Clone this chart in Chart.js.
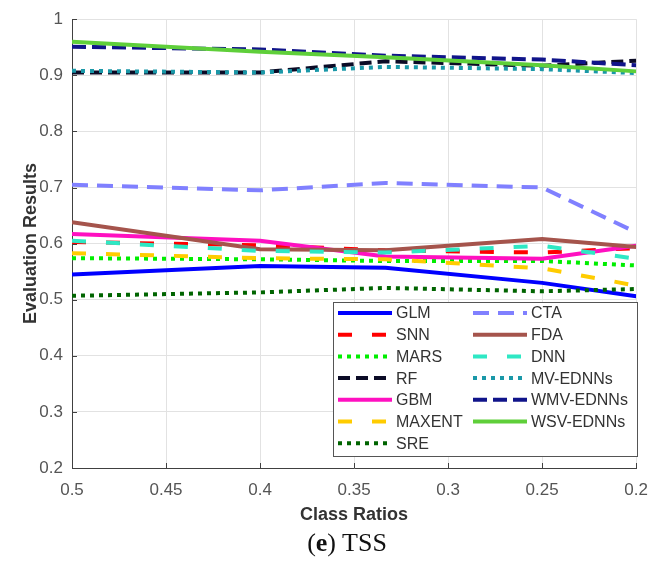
<!DOCTYPE html>
<html>
<head>
<meta charset="utf-8">
<script src="https://cdn.jsdelivr.net/npm/chart.js@4/dist/chart.umd.min.js"></script>
<style>
  html, body { margin: 0; padding: 0; background: #fff; }
  #wrap { position: relative; width: 660px; height: 570px; }
  #cap { position: absolute; left: 0; top: 528px; width: 694px; text-align: center;
         font-family: "Liberation Serif", "DejaVu Serif", serif; font-size: 26px; color: #111; }
</style>
</head>
<body>
<div id="wrap">
  <canvas id="c" width="660" height="570"></canvas>
  <div id="cap">(<b>e</b>) TSS</div>
</div>
<script>
// Class ratios (x positions of the data points)
const classRatios = [0.5, 0.4, 0.3333, 0.25, 0.2];
const xTickValues = [0.5, 0.45, 0.4, 0.35, 0.3, 0.25, 0.2];
const yTickValues = [0.2, 0.3, 0.4, 0.5, 0.6, 0.7, 0.8, 0.9, 1];

// Series values (TSS)
const glm    = [0.545, 0.560, 0.557, 0.530, 0.506];
const snn    = [0.603, 0.597, 0.588, 0.584, 0.592];
const mars   = [0.574, 0.572, 0.569, 0.569, 0.561];
const rf     = [0.905, 0.905, 0.925, 0.917, 0.926];
const gbm    = [0.617, 0.605, 0.577, 0.573, 0.596];
const maxent = [0.583, 0.574, 0.572, 0.556, 0.525];
const sre    = [0.507, 0.513, 0.521, 0.515, 0.519];
const cta    = [0.705, 0.695, 0.708, 0.700, 0.620];
const fda    = [0.638, 0.590, 0.588, 0.608, 0.594];
const dnn    = [0.605, 0.587, 0.584, 0.596, 0.573];
const mvEdnn = [0.908, 0.905, 0.915, 0.911, 0.904];
const wmvEdnn= [0.951, 0.946, 0.935, 0.928, 0.918];
const wsvEdnn= [0.960, 0.942, 0.932, 0.918, 0.907];

const seriesNames = ['GLM','SNN','MARS','RF','GBM','MAXENT','SRE','CTA','FDA','DNN','MV-EDNNs','WMV-EDNNs','WSV-EDNNs'];
const seriesValues = [glm, snn, mars, rf, gbm, maxent, sre, cta, fda, dnn, mvEdnn, wmvEdnn, wsvEdnn];

const styles = {
  'GLM':       { color: '#0000ff', dash: [] },
  'SNN':       { color: '#ff0000', dash: [14, 20] },
  'MARS':      { color: '#00ee00', dash: [4, 5] },
  'RF':        { color: '#0b0b26', dash: [12, 6] },
  'GBM':       { color: '#ff10c0', dash: [] },
  'MAXENT':    { color: '#ffcc00', dash: [14, 20] },
  'SRE':       { color: '#006400', dash: [4, 5] },
  'CTA':       { color: '#8080ff', dash: [16, 9] },
  'FDA':       { color: '#a5544c', dash: [] },
  'DNN':       { color: '#2ee8c4', dash: [14, 20] },
  'MV-EDNNs':  { color: '#1a98a8', dash: [4, 5] },
  'WMV-EDNNs': { color: '#10148a', dash: [14, 6] },
  'WSV-EDNNs': { color: '#5fcf3a', dash: [] }
};

const datasets = seriesNames.map((name, i) => ({
  label: name,
  data: classRatios.map((x, k) => ({ x: x, y: seriesValues[i][k] })),
  borderColor: styles[name].color,
  backgroundColor: styles[name].color,
  borderDash: styles[name].dash,
  borderWidth: 4,
  borderCapStyle: 'butt',
  pointRadius: 0,
  fill: false,
  tension: 0,
  order: seriesNames.length - i
}));

const legendPlugin = {
  id: 'boxLegend',
  afterDatasetsDraw(chart) {
    const ctx = chart.ctx;
    const bx = 333, by = 302, bw = 304, bh = 154;
    ctx.save();
    ctx.fillStyle = '#ffffff';
    ctx.fillRect(bx, by, bw, bh);
    ctx.strokeStyle = '#555555';
    ctx.lineWidth = 1;
    ctx.strokeRect(bx + 0.5, by + 0.5, bw, bh);
    ctx.font = '16px "Liberation Sans", Arial, sans-serif';
    ctx.textBaseline = 'middle';
    ctx.textAlign = 'left';
    const rowH = 21.7;
    chart.data.datasets.forEach((ds, i) => {
      const col = i < 7 ? 0 : 1;
      const row = i < 7 ? i : i - 7;
      const y = by + 11 + row * rowH;
      const x0 = col === 0 ? 338 : 473;
      ctx.strokeStyle = ds.borderColor;
      ctx.lineWidth = 4;
      ctx.lineCap = 'butt';
      ctx.setLineDash(ds.borderDash || []);
      ctx.beginPath();
      ctx.moveTo(x0, y);
      ctx.lineTo(x0 + 54, y);
      ctx.stroke();
      ctx.setLineDash([]);
      ctx.fillStyle = '#333333';
      ctx.fillText(ds.label, x0 + 58, y + 1);
    });
    ctx.restore();
  }
};

const innerTicks = {
  id: 'innerTicks',
  afterDraw(chart) {
    const ctx = chart.ctx;
    const xs = chart.scales.x, ys = chart.scales.y;
    const a = chart.chartArea;
    ctx.save();
    ctx.strokeStyle = '#404040';
    ctx.lineWidth = 1;
    ctx.beginPath();
    xs.ticks.forEach(t => {
      const px = Math.round(xs.getPixelForValue(t.value)) + 0.5;
      ctx.moveTo(px, a.bottom);
      ctx.lineTo(px, a.bottom - 5);
    });
    ys.ticks.forEach(t => {
      const py = Math.round(ys.getPixelForValue(t.value)) + 0.5;
      ctx.moveTo(a.left, py);
      ctx.lineTo(a.left + 5, py);
    });
    ctx.stroke();
    ctx.restore();
  }
};

const fmt = v => String(parseFloat(Number(v).toFixed(2)));

new Chart(document.getElementById('c'), {
  type: 'line',
  data: { datasets: datasets },
  plugins: [legendPlugin, innerTicks],
  options: {
    responsive: false,
    animation: false,
    layout: { padding: { left: 0, right: 14, top: 16, bottom: 40 } },
    plugins: { legend: { display: false }, tooltip: { enabled: false }, title: { display: false } },
    scales: {
      x: {
        type: 'linear',
        reverse: true,
        min: 0.2, max: 0.5,
        afterBuildTicks: s => { s.ticks = xTickValues.map(v => ({ value: v })); },
        afterFit: s => { s.height = 62; },
        grid: { color: '#e2e2e2', drawTicks: false },
        border: { display: true, color: '#404040', width: 1 },
        ticks: { callback: v => fmt(v), padding: 12, color: '#555555', maxRotation: 0,
                 font: { family: '"Liberation Sans", Arial, sans-serif', size: 17 } },
        title: { display: true, text: 'Class Ratios', color: '#333333',
                 padding: { top: 0, bottom: 4 },
                 font: { family: '"Liberation Sans", Arial, sans-serif', size: 18, weight: 'bold' } }
      },
      y: {
        type: 'linear',
        min: 0.2, max: 1,
        afterBuildTicks: s => { s.ticks = yTickValues.map(v => ({ value: v })); },
        afterFit: s => { s.width = 72; },
        grid: { color: '#e2e2e2', drawTicks: false },
        border: { display: true, color: '#404040', width: 1 },
        ticks: { callback: v => fmt(v), padding: 9, color: '#555555',
                 font: { family: '"Liberation Sans", Arial, sans-serif', size: 17 } },
        title: { display: true, text: 'Evaluation Results', color: '#333333',
                 padding: { top: 20, bottom: 0 },
                 font: { family: '"Liberation Sans", Arial, sans-serif', size: 18, weight: 'bold' } }
      }
    }
  }
});
</script>
</body>
</html>
